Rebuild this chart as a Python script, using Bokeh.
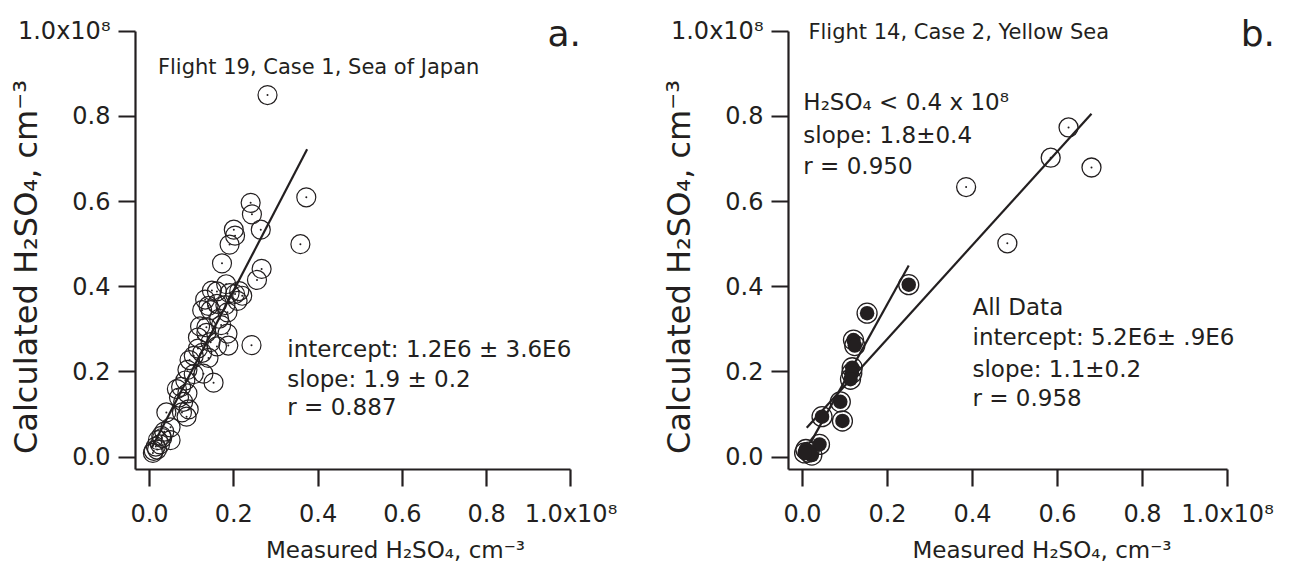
import numpy as np
from bokeh.plotting import figure
from bokeh.models import Range1d, FixedTicker, CustomJSTickFormatter, Label
from bokeh.layouts import row
from bokeh.embed import file_html
from bokeh.resources import INLINE

# All concentrations in units of 1e8 cm^-3
f19_measured = [0.280, 0.372, 0.358, 0.240, 0.243, 0.264, 0.200, 0.203, 0.190, 0.172,
                0.266, 0.255, 0.182, 0.213, 0.148, 0.160, 0.190, 0.203, 0.220, 0.209,
                0.132, 0.140, 0.160, 0.180, 0.125, 0.145, 0.185, 0.165, 0.120, 0.135,
                0.170, 0.185, 0.135, 0.115, 0.145, 0.160, 0.242, 0.187, 0.115, 0.125,
                0.105, 0.095, 0.140, 0.090, 0.105, 0.128, 0.152, 0.085, 0.075, 0.065,
                0.090, 0.070, 0.080, 0.093, 0.077, 0.088, 0.040, 0.050, 0.035, 0.030,
                0.050, 0.020, 0.025, 0.015, 0.010, 0.008, 0.018, 0.028]
f19_calculated = [0.850, 0.610, 0.500, 0.597, 0.570, 0.534, 0.534, 0.520, 0.499, 0.455,
                  0.442, 0.416, 0.406, 0.390, 0.391, 0.389, 0.385, 0.383, 0.379, 0.367,
                  0.370, 0.355, 0.360, 0.357, 0.345, 0.345, 0.340, 0.325, 0.307, 0.305,
                  0.310, 0.290, 0.292, 0.281, 0.270, 0.260, 0.263, 0.262, 0.255, 0.245,
                  0.238, 0.228, 0.233, 0.205, 0.195, 0.196, 0.175, 0.180, 0.165, 0.160,
                  0.150, 0.140, 0.130, 0.112, 0.105, 0.095, 0.105, 0.070, 0.060, 0.045,
                  0.040, 0.040, 0.030, 0.025, 0.015, 0.010, 0.018, 0.050]
f19_fit_intercept = 0.012
f19_fit_slope = 1.9
f19_fit_xspan = [0.005, 0.374]

f14_low_measured = [0.250, 0.152, 0.120, 0.123, 0.117, 0.116, 0.113, 0.089, 0.094, 0.046,
                    0.040, 0.008, 0.015, 0.022, 0.005]
f14_low_calculated = [0.405, 0.338, 0.275, 0.262, 0.210, 0.197, 0.183, 0.130, 0.085, 0.095,
                      0.030, 0.018, 0.012, 0.005, 0.010]
f14_high_measured = [0.385, 0.482, 0.584, 0.626, 0.680]
f14_high_calculated = [0.634, 0.502, 0.703, 0.774, 0.680]
f14_all_intercept = 0.058
f14_all_slope = 1.1
f14_all_xspan = [0.01, 0.68]
f14_low_intercept = 0.0
f14_low_slope = 1.8
f14_low_xspan = [0.02, 0.25]

tick_values = [0.0, 0.2, 0.4, 0.6, 0.8, 1.0]
tick_labels = ["0.0", "0.2", "0.4", "0.6", "0.8", "1.0x10\u2078"]

INK = "#231f20"
FONT = "DejaVu Sans"
Y_LO, Y_HI = -0.0289, 1.0720
EN = "\u2002"


def fit_line(intercept, slope, xspan):
    xs = list(xspan)
    ys = [intercept + slope * x for x in xs]
    return xs, ys


def make_fig(width, mbl, xlo, xhi):
    p = figure(width=width, height=571,
               x_range=Range1d(xlo, xhi), y_range=Range1d(Y_LO, Y_HI),
               output_backend="svg", toolbar_location=None,
               min_border_left=mbl, min_border_right=0,
               min_border_top=0, min_border_bottom=102)
    p.outline_line_color = None
    p.grid.visible = False
    p.background_fill_color = "white"
    p.border_fill_color = "white"
    fmt = CustomJSTickFormatter(args=dict(vals=tick_values, labs=tick_labels), code="""
        for (let i = 0; i < vals.length; i++) {
            if (Math.abs(vals[i] - tick) < 1e-6) { return labs[i]; }
        }
        return "";
    """)
    for ax in (p.xaxis[0], p.yaxis[0]):
        ax.ticker = FixedTicker(ticks=tick_values)
        ax.formatter = fmt
        ax.axis_line_width = 2.2
        ax.axis_line_color = INK
        ax.major_tick_line_width = 2.2
        ax.major_tick_line_color = INK
        ax.major_tick_out = 17
        ax.major_tick_in = 0
        ax.minor_tick_line_color = None
        ax.major_label_text_font = FONT
        ax.major_label_text_font_size = "24px"
        ax.major_label_text_color = INK
        ax.axis_label_text_font = FONT
        ax.axis_label_text_font_style = "normal"
        ax.axis_label_text_color = INK
    p.xaxis.bounds = (xlo, 1.0)
    p.yaxis.bounds = (Y_LO, 1.0)
    p.xaxis.major_label_standoff = 13
    p.yaxis.major_label_standoff = 8
    p.xaxis.axis_label = "Measured H\u2082SO\u2084, cm\u207b\u00b3"
    p.xaxis.axis_label_text_font_size = "23px"
    p.xaxis.axis_label_standoff = 6
    p.yaxis.axis_label = "Calculated H\u2082SO\u2084, cm\u207b\u00b3" + EN * 4
    p.yaxis.axis_label_text_font_size = "32px"
    p.yaxis.axis_label_standoff = -30
    return p


def add_text(p, x, y, text, size="23px", align="left", baseline="middle"):
    p.add_layout(Label(x=x, y=y, text=text, x_units="data", y_units="data",
                       text_font=FONT, text_font_size=size, text_color=INK,
                       text_align=align, text_baseline=baseline))


# ---------------- Panel a ----------------
p1 = make_fig(655, 135, -0.0332, 1.2005)
xs, ys = fit_line(f19_fit_intercept, f19_fit_slope, f19_fit_xspan)
p1.line(xs, ys, line_color=INK, line_width=2.2)
p1.scatter(f19_measured, f19_calculated, marker="circle", size=19,
           fill_color=None, line_color=INK, line_width=1.2)
p1.scatter(f19_measured, f19_calculated, marker="circle", size=2,
           fill_color=INK, line_color=None)
add_text(p1, 0.020, 0.915, "Flight 19, Case 1, Sea of Japan", size="21px")
add_text(p1, 0.327, 0.255, "intercept: 1.2E6 \u00b1 3.6E6")
add_text(p1, 0.327, 0.184, "slope: 1.9 \u00b1 0.2")
add_text(p1, 0.327, 0.117, "r = 0.887")
add_text(p1, 0.944, 0.995, "a.", size="36px")

# ---------------- Panel b ----------------
p2 = make_fig(640, 133, -0.0329, 1.16)
xs, ys = fit_line(f14_all_intercept, f14_all_slope, f14_all_xspan)
p2.line(xs, ys, line_color=INK, line_width=2.2)
xs, ys = fit_line(f14_low_intercept, f14_low_slope, f14_low_xspan)
p2.line(xs, ys, line_color=INK, line_width=2.2)
p2.scatter(f14_high_measured, f14_high_calculated, marker="circle", size=19,
           fill_color=None, line_color=INK, line_width=1.3)
p2.scatter(f14_high_measured, f14_high_calculated, marker="circle", size=2,
           fill_color=INK, line_color=None)
p2.scatter(f14_low_measured, f14_low_calculated, marker="circle", size=20,
           fill_color=None, line_color=INK, line_width=1.3)
p2.scatter(f14_low_measured, f14_low_calculated, marker="circle", size=14.5,
           fill_color=INK, line_color=None)
add_text(p2, 0.014, 0.997, "Flight 14, Case 2, Yellow Sea", size="21px")
add_text(p2, 0.002, 0.833, "H\u2082SO\u2084 < 0.4 x 10\u2078")
add_text(p2, 0.002, 0.757, "slope: 1.8\u00b10.4")
add_text(p2, 0.002, 0.684, "r = 0.950")
add_text(p2, 0.40, 0.353, "All Data")
add_text(p2, 0.40, 0.281, "intercept: 5.2E6\u00b1 .9E6")
add_text(p2, 0.40, 0.208, "slope: 1.1\u00b10.2")
add_text(p2, 0.40, 0.138, "r = 0.958")
add_text(p2, 1.031, 0.995, "b.", size="36px")

layout = row(p1, p2)
open("out.html", "w").write(file_html(layout, INLINE))
